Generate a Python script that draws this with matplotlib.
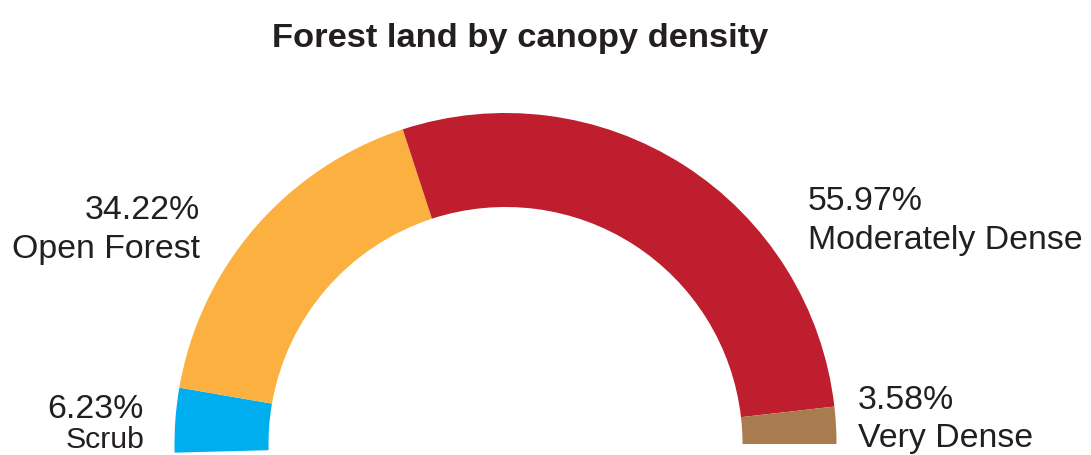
import matplotlib
matplotlib.use("Agg")
from matplotlib import pyplot as plt

plt.rcParams['font.family'] = ['Liberation Sans', 'DejaVu Sans']

categories = ['Scrub', 'Open Forest', 'Moderately Dense', 'Very Dense']
shares = [6.23, 34.22, 55.97, 3.58]
colors = ['#00AEEF', '#FBB040', '#BE1E2D', '#A97C50']

W, H = 1091, 455
TEXT = '#231F20'
SWEEP = 181.5  # degrees covered by the ring, starting just under the left horizontal
R_PX = 331     # outer radius in pixels
CX, CY = 505.5, 444
LABEL_FS = 24.4

fig = plt.figure(figsize=(W / 100, H / 100), dpi=100)

# axes spans x in [-1, 1], y in [-0.1, 1] at one radius = R_PX pixels
ax = fig.add_axes([(CX - R_PX) / W, (H - CY - 0.1 * R_PX) / H,
                   2 * R_PX / W, 1.1 * R_PX / H])
hidden = sum(shares) * (360 / SWEEP - 1)
wedges, _ = ax.pie(shares + [hidden], colors=colors + ['none'],
                   startangle=SWEEP, counterclock=False, radius=1.0,
                   wedgeprops=dict(width=0.284, linewidth=0))
ax.set_aspect('auto')
ax.set_xlim(-1, 1)
ax.set_ylim(-0.1, 1)
ax.axis('off')

fig.text(520 / W, 1 - 47 / H, 'Forest land by canopy density',
         ha='center', va='baseline', fontsize=24.8, fontweight='bold',
         color=TEXT)

# label anchors in pixels: (x, percent baseline, name baseline, align, name size)
layout = [
    (144, 418, 448, 'right', 21.8),
    (200, 219, 258, 'right', LABEL_FS),
    (808, 210, 249, 'left', LABEL_FS),
    (858, 409, 447, 'left', LABEL_FS),
]
for name, share, (x, y1, y2, ha, fs) in zip(categories, shares, layout):
    fig.text(x / W, 1 - y1 / H, f'{share:.2f}%', ha=ha, va='baseline',
             fontsize=LABEL_FS, color=TEXT)
    fig.text(x / W, 1 - y2 / H, name, ha=ha, va='baseline',
             fontsize=fs, color=TEXT)

fig.savefig('out.png', dpi=100)
